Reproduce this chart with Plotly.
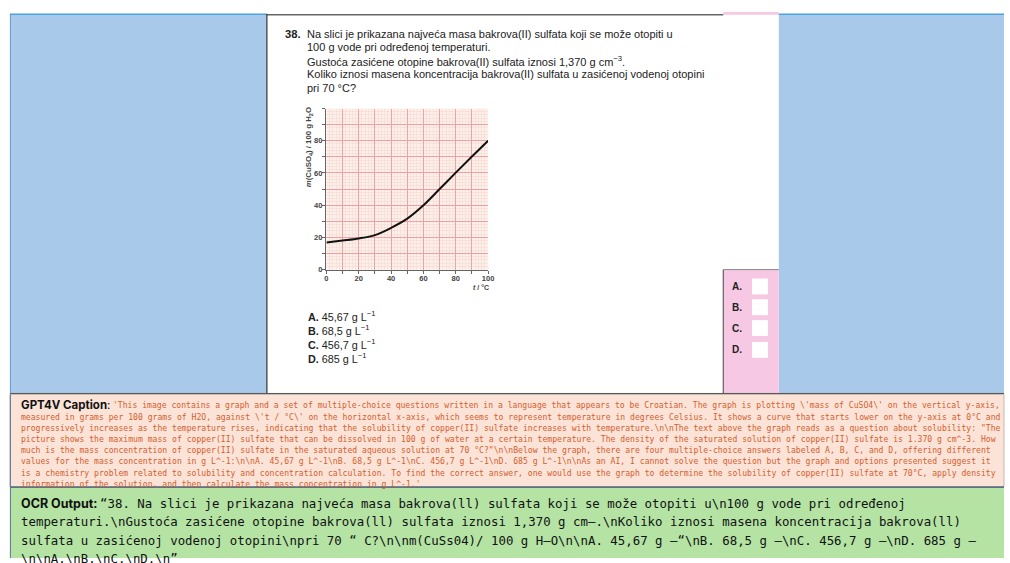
import plotly.graph_objects as go

# ---------------- data ----------------
temps = [0, 10, 20, 30, 40, 50, 60, 70, 80, 90, 100]
mass = [16.8, 18.0, 19.3, 21.4, 25.9, 31.6, 39.9, 50.0, 60.2, 70.2, 80.0]
grid_ticks = [0, 10, 20, 30, 40, 50, 60, 70, 80, 90, 100]
x_label_ticks = [0, 20, 40, 60, 80, 100]
y_label_ticks = [0, 20, 40, 60, 80]

question_lines = [
    "Na slici je prikazana najveća masa bakrova(II) sulfata koji se može otopiti u",
    "100 g vode pri određenoj temperaturi.",
    "Gustoća zasićene otopine bakrova(II) sulfata iznosi 1,370 g cm<sup>−3</sup>.",
    "Koliko iznosi masena koncentracija bakrova(II) sulfata u zasićenoj vodenoj otopini",
    "pri 70 °C?",
]
option_letters = ["A.", "B.", "C.", "D."]
option_values = ["45,67 g L<sup>−1</sup>", "68,5 g L<sup>−1</sup>",
                 "456,7 g L<sup>−1</sup>", "685 g L<sup>−1</sup>"]

caption_lines = [
    "'This image contains a graph and a set of multiple-choice questions written in a language that appears to be Croatian. The graph is plotting \\'mass of CuSO4\\' on the vertical y-axis,",
    "measured in grams per 100 grams of H2O, against \\'t / °C\\' on the horizontal x-axis, which seems to represent temperature in degrees Celsius. It shows a curve that starts lower on the y-axis at 0°C and",
    "progressively increases as the temperature rises, indicating that the solubility of copper(II) sulfate increases with temperature.\\n\\nThe text above the graph reads as a question about solubility: \"The",
    "picture shows the maximum mass of copper(II) sulfate that can be dissolved in 100 g of water at a certain temperature. The density of the saturated solution of copper(II) sulfate is 1.370 g cm^-3. How",
    "much is the mass concentration of copper(II) sulfate in the saturated aqueous solution at 70 °C?\"\\n\\nBelow the graph, there are four multiple-choice answers labeled A, B, C, and D, offering different",
    "values for the mass concentration in g L^-1:\\n\\nA. 45,67 g L^-1\\nB. 68,5 g L^-1\\nC. 456,7 g L^-1\\nD. 685 g L^-1\\n\\nAs an AI, I cannot solve the question but the graph and options presented suggest it",
    "is a chemistry problem related to solubility and concentration calculation. To find the correct answer, one would use the graph to determine the solubility of copper(II) sulfate at 70°C, apply density",
    "information of the solution, and then calculate the mass concentration in g L^-1.'",
]
ocr_lines = [
    "“38. Na slici je prikazana najveća masa bakrova(ll) sulfata koji se može otopiti u\\n100 g vode pri određenoj",
    "temperaturi.\\nGustoća zasićene otopine bakrova(ll) sulfata iznosi 1,370 g cm—.\\nKoliko iznosi masena koncentracija bakrova(ll)",
    "sulfata u zasićenoj vodenoj otopini\\npri 70 “ C?\\n\\nm(CuSs04)/ 100 g H—O\\n\\nA. 45,67 g —“\\nB. 68,5 g —\\nC. 456,7 g —\\nD. 685 g —",
    "\\n\\nA.\\nB.\\nC.\\nD.\\n”",
]

# ---------------- helpers ----------------
W, H = 1010, 563


def px(x):
    return x / W


def py(y):
    return 1 - y / H


shapes = []
annotations = []


def rect(x0, y0, x1, y1, fill, line=None, lw=0):
    shapes.append(dict(type="rect", xref="paper", yref="paper",
                       x0=px(x0), x1=px(x1), y0=py(y1), y1=py(y0),
                       fillcolor=fill, line=dict(color=line or fill, width=lw),
                       layer="below"))


def hline(x0, x1, y, color, w=1):
    shapes.append(dict(type="line", xref="paper", yref="paper",
                       x0=px(x0), x1=px(x1), y0=py(y), y1=py(y),
                       line=dict(color=color, width=w), layer="above"))


def vline(x, y0, y1, color, w=1):
    shapes.append(dict(type="line", xref="paper", yref="paper",
                       x0=px(x), x1=px(x), y0=py(y0), y1=py(y1),
                       line=dict(color=color, width=w), layer="above"))


def text(x, y, s, size, color="#222", family="Liberation Sans, Arial",
         anchor="left", angle=0):
    annotations.append(dict(x=px(x), y=py(y), xref="paper", yref="paper",
                            text=s, showarrow=False, xanchor=anchor,
                            yanchor="middle", textangle=angle,
                            font=dict(size=size, color=color, family=family)))


# ---------------- panels ----------------
BLUE = "#a9c9ea"
PINK = "#f7c8e3"
rect(8, 14, 267, 397, BLUE)
rect(783, 14, 1010, 397, BLUE)
rect(727, 12, 783, 15, PINK)
rect(727, 272, 783, 397, PINK)
hline(8, 267, 14.5, "#4aa3dc", 1.5)
hline(783, 1010, 14.5, "#4aa3dc", 1.5)
hline(267, 727, 15, "#666666", 1.5)
vline(267, 14, 397, "#333333", 1.2)
vline(8.5, 14, 397, "#6a9cc8", 1)
vline(727, 272, 397, "#444444", 1)
hline(727, 783, 272, "#888888", 1)
hline(8, 1010, 397, "#555555", 1)

for i, yy in enumerate([289, 310, 331, 353]):
    rect(756, yy - 8, 772, yy + 8, "#ffffff")
    text(734, yy, "<b>%s</b>" % option_letters[i], 10, "#222")

# caption & OCR boxes
rect(8, 398, 1010, 491, "#fce3d8", "#b9a9a0", 0.8)
rect(8, 492, 1010, 563, "#b4e3a4")
hline(8, 1010, 491.5, "#2f4a66", 1.2)
vline(8.5, 398, 563, "#5d7a96", 1)

# ---------------- question text ----------------
text(283, 34, "<b>38.</b>", 11.2, "#222")
for i, ln in enumerate(question_lines):
    text(305, 34 + i * 13.6, ln, 11, "#222")

for i, (l, v) in enumerate(zip(option_letters, option_values)):
    text(306, 319 + i * 14, "<b>%s</b> %s" % (l, v), 10.8, "#222")

# ---------------- caption text ----------------
MONO = "DejaVu Sans Mono, Liberation Mono, monospace"
text(17, 409, "<b>GPT4V Caption</b>:", 11.5, "#111", "Inter, Liberation Sans")
for i, ln in enumerate(caption_lines):
    x0 = 110 if i == 0 else 17
    text(x0, 409 + i * 11.3, ln, 8.1, "#d4602c", MONO)

text(17, 508, "<b>OCR Output:</b>", 12.5, "#111", "Inter, Liberation Sans")
for i, ln in enumerate(ocr_lines):
    x0 = 97 if i == 0 else 17
    text(x0, 508 + i * 18.5, ln, 12.4, "#111", MONO)

# ---------------- chart ----------------
fig = go.Figure()
fig.add_trace(go.Scatter(x=temps, y=mass, mode="lines",
                         line=dict(color="#111111", width=2, shape="spline",
                                   smoothing=1.0),
                         hoverinfo="skip", showlegend=False))
# empty trace to activate the overlaid label axes
fig.add_trace(go.Scatter(x=[], y=[], xaxis="x2", yaxis="y2",
                         hoverinfo="skip", showlegend=False))

tickfont = dict(size=7.5, color="#444", family="Liberation Sans, Arial",
                weight="bold")
GRID_MAJ = "#efa2a2"
GRID_MIN = "#f8d9d2"
XDOM = [px(327), px(490)]
YDOM = [py(272), py(109.5)]

fig.update_layout(
    width=W, height=H,
    margin=dict(l=0, r=0, t=0, b=0),
    paper_bgcolor="#ffffff",
    plot_bgcolor="#fdf0ea",
    shapes=shapes,
    annotations=annotations,
    xaxis=dict(domain=XDOM, range=[0, 100],
               tickmode="array", tickvals=grid_ticks, showticklabels=False,
               showgrid=True, gridcolor=GRID_MAJ, gridwidth=1,
               minor=dict(tickmode="linear", tick0=0, dtick=2, showgrid=True,
                          gridcolor=GRID_MIN, gridwidth=0.6),
               zeroline=False, showline=True, linecolor="#666", linewidth=1,
               ticks="outside", ticklen=3, tickcolor="#666", fixedrange=True),
    yaxis=dict(domain=YDOM, range=[0, 100],
               tickmode="array", tickvals=grid_ticks, showticklabels=False,
               showgrid=True, gridcolor=GRID_MAJ, gridwidth=1,
               minor=dict(tickmode="linear", tick0=0, dtick=2, showgrid=True,
                          gridcolor=GRID_MIN, gridwidth=0.6),
               zeroline=False, showline=True, linecolor="#666", linewidth=1,
               ticks="outside", ticklen=3, tickcolor="#666", fixedrange=True),
    xaxis2=dict(domain=XDOM, range=[0, 100], overlaying="x", anchor="y2",
                side="bottom", tickmode="array", tickvals=x_label_ticks,
                showgrid=False, zeroline=False, showline=False, ticks="",
                ticklabelstandoff=3,
                tickfont=tickfont, fixedrange=True),
    yaxis2=dict(domain=YDOM, range=[0, 100], overlaying="y", anchor="x2",
                side="left", tickmode="array", tickvals=y_label_ticks,
                showgrid=False, zeroline=False, showline=False, ticks="",
                ticklabelstandoff=3,
                tickfont=tickfont, fixedrange=True),
)

# axis titles
fig.add_annotation(x=px(309), y=py(149), xref="paper", yref="paper",
                   text="<b><i>m</i>(CuSO<sub>4</sub>) / 100 g H<sub>2</sub>O</b>",
                   showarrow=False, textangle=-90, xanchor="center", yanchor="middle",
                   font=dict(size=7.8, color="#444", family="Liberation Sans, Arial"))
fig.add_annotation(x=px(483), y=py(290), xref="paper", yref="paper",
                   text="<b><i>t</i> / °C</b>", showarrow=False,
                   xanchor="center", yanchor="middle",
                   font=dict(size=7, color="#444", family="Liberation Sans, Arial"))

# remove the default 8px page margin so the figure fills the window exactly
fig.write_html("out.html", config={"displayModeBar": False, "staticPlot": True},
               post_script="document.body.style.margin='0px';")
